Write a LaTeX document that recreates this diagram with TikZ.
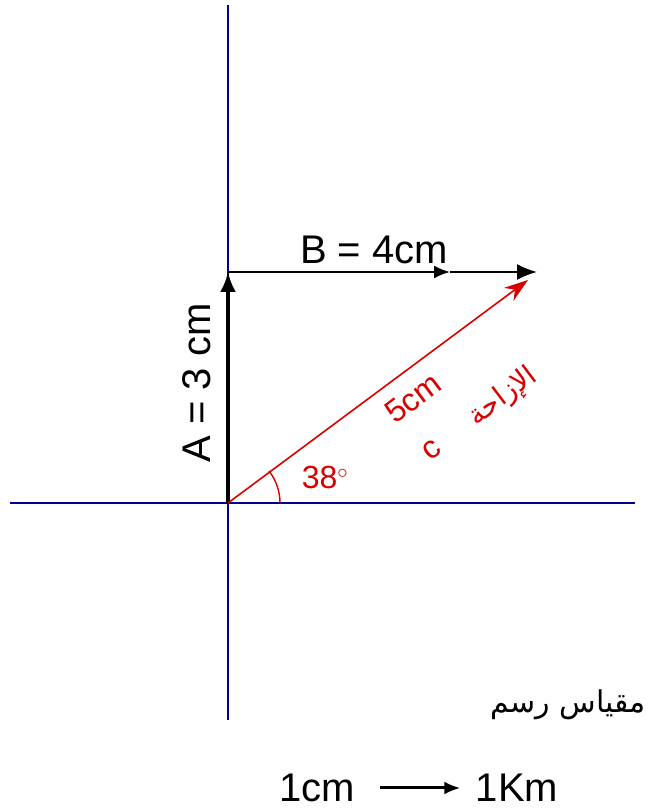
\documentclass[tikz,border=0pt]{standalone}
\usepackage{fontspec}
\setmainfont{Liberation Sans}
\newfontfamily\arabicfont[Script=Arabic]{DejaVu Sans}
\TeXXeTstate=1
\usetikzlibrary{arrows.meta}

\begin{document}
\begin{tikzpicture}
[
	x=1pt,y=1pt,
	axis/.style={blue!55!black,line width=1.6pt},
	vec/.style={black,line width=2pt,-{Latex[length=20pt,width=16pt]}},
	redvec/.style={red!85!black,line width=1.6pt,-{Stealth[length=24pt,width=16pt]}},
	lbl/.style={font=\fontsize{40}{44}\selectfont},
	redlbl/.style={red!85!black,font=\fontsize{32}{36}\selectfont}
]
	\useasboundingbox (0,0) rectangle (671,810);

	% axes
	\coordinate (ytop) at (228,805);
	\coordinate (ybot) at (228,90);
	\coordinate (xleft) at (10,307);
	\coordinate (xright) at (635,307);
	\draw[axis] (ybot) -- (ytop);
	\draw[axis] (xleft) -- (xright);

	% vectors
	\coordinate (O) at (228,307);
	\coordinate (Atip) at (228,538);
	\coordinate (Bmid) at (450,538);
	\coordinate (Btip) at (537,538);
	\coordinate (Ctip) at (528,530);

	\draw[vec,line width=3.5pt] (O) -- (Atip);
	\draw[vec,-{Latex[length=16pt,width=13pt]}] (Atip) -- (Bmid);
	\draw[vec] (Bmid) -- (Btip);
	\draw[redvec] (O) -- (Ctip);

	\draw[red!85!black,line width=1.4pt] (O) ++(52,0) arc[start angle=0,end angle=38,radius=52];

	\node[lbl] (labB) at (374,560) {B = 4cm};
	\node[lbl,rotate=90] (labA) at (197,427) {A = 3 cm};
	\node[redlbl] (ang) at (325,333) {38$^\circ$};
	\node[redlbl,rotate=37] (labC) at (413,412) {5cm};
	\node[red!85!black,rotate=37,font=\arabicfont\fontsize{28}{32}\selectfont] (disp) at (503,413) {\beginR الإزاحة\endR};
	\node[redlbl,rotate=37] (cname) at (432,360) {c};

	% scale
	\node[font=\arabicfont\fontsize{30}{34}\selectfont] (scl) at (568,105) {\beginR مقياس رسم\endR};
	\node[lbl] (cm) at (317,22) {1cm};
	\node[lbl] (km) at (517,22) {1Km};
	\draw[black,line width=3pt,-{Latex[length=16pt,width=13pt]},shorten <=22pt,shorten >=12pt] (cm.east) -- (km.west);

\end{tikzpicture}
\end{document}
